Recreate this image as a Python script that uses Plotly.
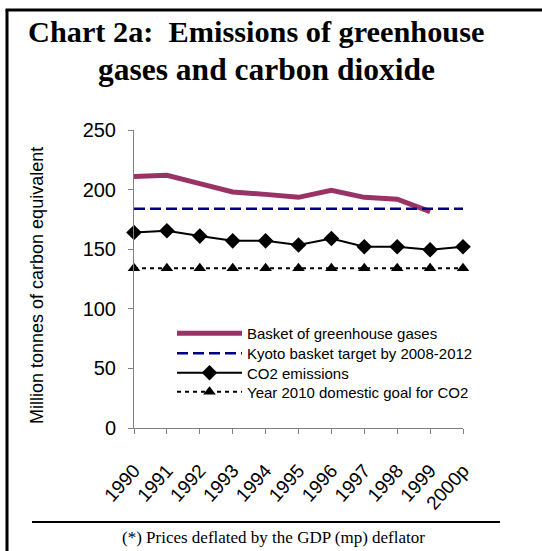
import plotly.graph_objects as go

# ---- data ----
years = ["1990", "1991", "1992", "1993", "1994", "1995", "1996", "1997", "1998", "1999", "2000p"]
basket = [211, 212, 205, 198, 196, 193.5, 199.5, 193.5, 192, 181.5, None]
kyoto = [184, 184, 184, 184, 184, 184, 184, 184, 184, 184, 184]
co2 = [164, 165.5, 161, 157, 157, 153.5, 159, 152, 152, 149.5, 152]
goal = [134, 134, 134, 134, 134, 134, 134, 134, 134, 134, 134]
y_ticks = [0, 50, 100, 150, 200, 250]

W, H = 542, 551
ML, MT = 134, 130
MR = W - 463
MB = H - 428
PW, PH = W - ML - MR, H - MT - MB


def pxx(px):
    """window pixel x -> paper x"""
    return (px - ML) / PW


def pxy(py):
    """window pixel y -> paper y"""
    return (H - MB - py) / PH


fig = go.Figure()
fig.add_trace(go.Scatter(x=years, y=basket, mode="lines", name="Basket of greenhouse gases",
                         line=dict(color="#993366", width=5), cliponaxis=False, legend="legend"))
fig.add_trace(go.Scatter(x=years, y=kyoto, mode="lines", name="Kyoto basket target by 2008-2012",
                         line=dict(color="#000080", width=2.5, dash="11px,5px"), cliponaxis=False,
                         legend="legend2"))
fig.add_trace(go.Scatter(x=years, y=co2, mode="lines+markers", name="CO2 emissions",
                         line=dict(color="black", width=2),
                         marker=dict(symbol="diamond", size=12, color="black"), cliponaxis=False,
                         legend="legend3"))
fig.add_trace(go.Scatter(x=years, y=goal, mode="lines+markers", name="Year 2010 domestic goal for CO2",
                         line=dict(color="black", width=2, dash="4px,4px"),
                         marker=dict(symbol="triangle-up", size=11, color="black"), cliponaxis=False,
                         legend="legend4"))


def leg(top_px):
    return dict(x=pxx(172), y=pxy(top_px), xanchor="left", yanchor="top",
                font=dict(size=15, family="Arial, Liberation Sans, sans-serif", color="black"),
                bgcolor="rgba(0,0,0,0)", itemwidth=65)


fig.update_layout(
    width=W, height=H,
    margin=dict(l=ML, r=MR, t=MT, b=MB),
    paper_bgcolor="white", plot_bgcolor="white",
    font=dict(family="Arial, Liberation Sans, sans-serif", color="black"),
    showlegend=True,
    legend=leg(317), legend2=leg(337), legend3=leg(356.5), legend4=leg(375.5),
)
fig.update_xaxes(type="category", range=[0, 10], showgrid=False, zeroline=False,
                 showline=True, linecolor="#808080", linewidth=1,
                 ticks="outside", ticklen=5, tickcolor="#808080",
                 tickangle=-48, tickfont=dict(size=19), ticklabelstandoff=18)
fig.update_yaxes(range=[0, 250], tickvals=y_ticks, showgrid=False, zeroline=False,
                 showline=True, linecolor="#808080", linewidth=1,
                 ticks="outside", ticklen=5, tickcolor="#808080",
                 tickfont=dict(size=20), ticklabelstandoff=8)

# title lines
fig.add_annotation(text="<b>Chart 2a:&nbsp; Emissions of greenhouse</b>", xref="paper", yref="paper",
                   x=pxx(256), y=pxy(32), xanchor="center", yanchor="middle", showarrow=False,
                   font=dict(family="Liberation Serif, Times New Roman, serif", size=30.3, color="black"))
fig.add_annotation(text="<b>gases and carbon dioxide</b>", xref="paper", yref="paper",
                   x=pxx(266), y=pxy(69), xanchor="center", yanchor="middle", showarrow=False,
                   font=dict(family="Liberation Serif, Times New Roman, serif", size=31.5, color="black"))
# y-axis title
fig.add_annotation(text="Million tonnes of carbon equivalent", xref="paper", yref="paper",
                   x=pxx(37), y=pxy(286), xanchor="center", yanchor="middle", textangle=-90,
                   showarrow=False, font=dict(size=18))
# footer
fig.add_annotation(text="(*) Prices deflated by the GDP (mp) deflator", xref="paper", yref="paper",
                   x=pxx(273), y=pxy(537), xanchor="center", yanchor="middle", showarrow=False,
                   font=dict(family="Liberation Serif, Times New Roman, serif", size=17, color="black"))

# frame (left and top edges only; right and bottom lie outside the picture) and footer rule
fig.add_shape(type="line", xref="paper", yref="paper", x0=pxx(7), y0=pxy(10), x1=pxx(7), y1=pxy(560),
              line=dict(color="black", width=3), layer="below")
fig.add_shape(type="line", xref="paper", yref="paper", x0=pxx(5.5), y0=pxy(10), x1=pxx(560), y1=pxy(10),
              line=dict(color="black", width=3), layer="below")
fig.add_shape(type="line", xref="paper", yref="paper", x0=pxx(32), y0=pxy(522), x1=pxx(500), y1=pxy(522),
              line=dict(color="black", width=2))

fig.write_html(
    "out.html",
    config={"displayModeBar": False},
    post_script=("document.body.style.margin='0';"
                 "document.body.style.overflow='hidden';"
                 "document.documentElement.style.overflow='hidden';"),
)
